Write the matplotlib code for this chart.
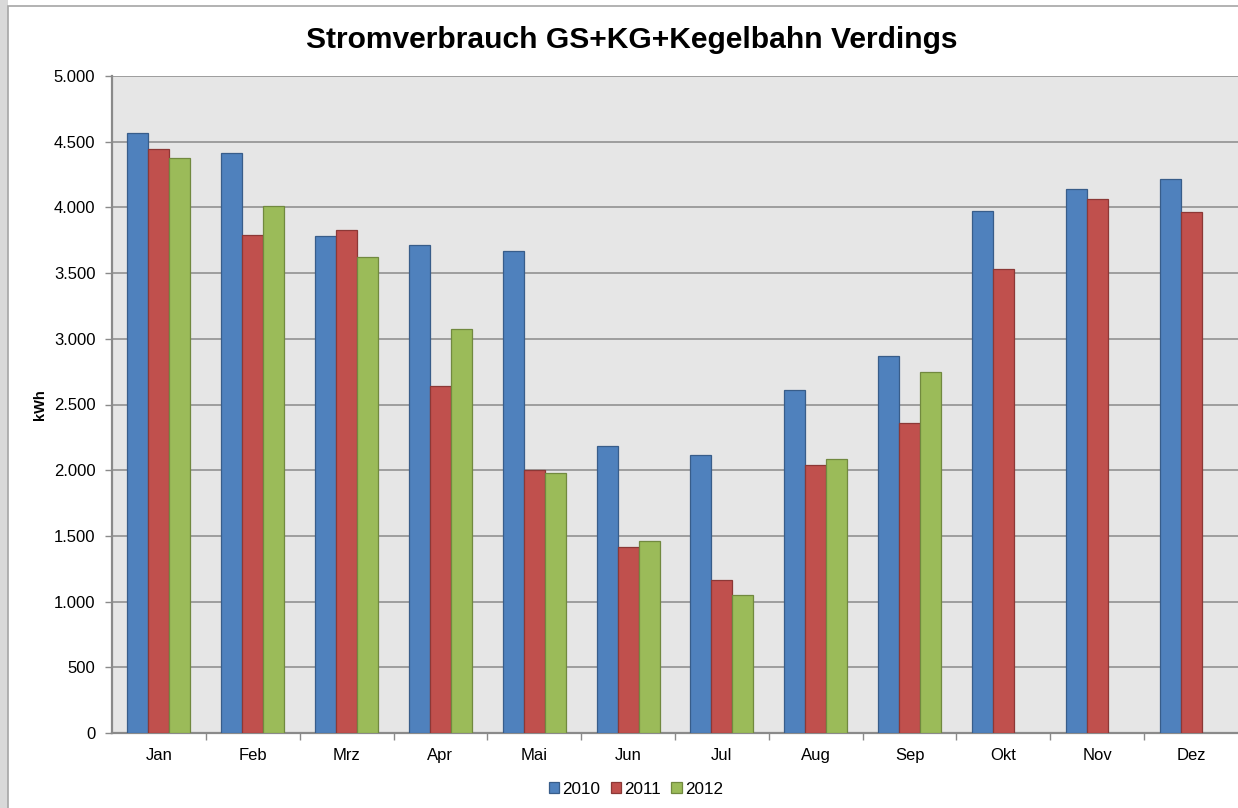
import numpy as np
import matplotlib.pyplot as plt
from matplotlib.patches import Rectangle
from matplotlib.ticker import FuncFormatter, FixedLocator

plt.rcParams['font.family'] = ['Liberation Sans', 'DejaVu Sans']

# Monatswerte Stromverbrauch (kWh)
months = ['Jan', 'Feb', 'Mrz', 'Apr', 'Mai', 'Jun', 'Jul', 'Aug', 'Sep', 'Okt', 'Nov', 'Dez']
years = ['2010', '2011', '2012']
v2010 = [4565, 4414, 3786, 3717, 3665, 2182, 2112, 2611, 2870, 3970, 4140, 4215]
v2011 = [4447, 3788, 3829, 2641, 2005, 1414, 1164, 2038, 2358, 3530, 4065, 3965]
v2012 = [4376, 4011, 3619, 3073, 1977, 1459, 1048, 2083, 2750, np.nan, np.nan, np.nan]

colors = ['#4F81BD', '#C0504D', '#9BBB59']
edges = ['#385D8A', '#8C3836', '#71893F']

fig = plt.figure(figsize=(12.38, 8.08), dpi=100)

# Rahmen wie im Excel-Diagramm
fig.patches.append(Rectangle((0, 0), 8 / 1238, 1, transform=fig.transFigure,
                             facecolor='#d9d9d9', edgecolor='none', zorder=0))
fig.patches.append(Rectangle((8 / 1238, -0.1), 1.2, 1 - 6 / 808 + 0.1, transform=fig.transFigure,
                             facecolor='none', edgecolor='#a6a6a6', linewidth=1.2, zorder=1))

ax = fig.add_axes([112 / 1238, 75 / 808, 1 - 112 / 1238, (733 - 76) / 808])
ax.set_facecolor('#e6e6e6')

x = np.arange(len(months))
w = 0.224
for i, (vals, lab) in enumerate(zip([v2010, v2011, v2012], years)):
    ax.bar(x + (i - 1) * w, vals, width=w, color=colors[i], edgecolor=edges[i],
           linewidth=0.9, label=lab, zorder=3)

ax.set_xlim(-0.5, len(months) - 0.5)
ax.set_ylim(0, 5000)
ax.set_yticks(np.arange(0, 5001, 500))
ax.yaxis.set_major_formatter(FuncFormatter(lambda v, p: f'{v:,.0f}'.replace(',', '.')))
ax.grid(axis='y', color='#8a8a8a', linewidth=1.1, zorder=1)
ax.set_axisbelow(True)

ax.set_xticks(x)
ax.set_xticklabels(months)
ax.xaxis.set_minor_locator(FixedLocator(np.arange(0.5, len(months) - 0.5, 1.0)))
ax.tick_params(axis='x', which='major', length=0, pad=11, labelsize=12)
ax.tick_params(axis='x', which='minor', length=5, color='#8a8a8a', width=1)
ax.tick_params(axis='y', length=5, color='#8a8a8a', width=1, pad=7, labelsize=12)

for s in ['top', 'right']:
    ax.spines[s].set_visible(False)
for s in ['left', 'bottom']:
    ax.spines[s].set_color('#8a8a8a')
    ax.spines[s].set_linewidth(1.6)

fig.text(40 / 1238, 1 - 405 / 808, 'kWh', rotation=90, ha='center', va='center',
         fontsize=10.5, fontweight='bold')
fig.text(632 / 1238, 1 - 40 / 808, 'Stromverbrauch GS+KG+Kegelbahn Verdings',
         ha='center', va='center', fontsize=21.6, fontweight='bold')

fig.legend(loc='center', bbox_to_anchor=(636 / 1238, 1 - 789 / 808), ncol=3, frameon=False,
           fontsize=12.3, handlelength=0.6, handleheight=0.6, handletextpad=0.2,
           columnspacing=0.6)

fig.savefig('out.png', dpi=100)
